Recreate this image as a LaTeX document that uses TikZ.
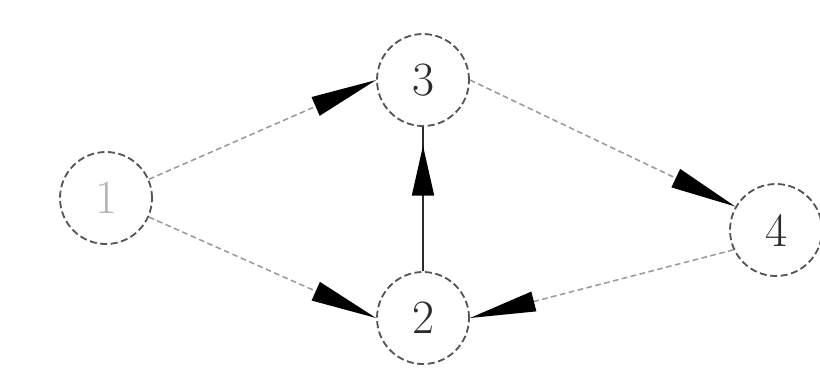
\documentclass[tikz,border=0pt]{standalone}
\usepackage{tikz}
\usetikzlibrary{arrows.meta,positioning,decorations.markings}
\definecolor{scanink}{HTML}{2A2A2A}
\definecolor{scangray}{HTML}{9A9A9A}
\tikzset{
  statenode/.style={circle, draw=scanink!80, line width=1.3pt, dash pattern=on 5pt off 2.5pt, minimum size=2.3cm, inner sep=0pt, font=\fontsize{34}{38}\selectfont, text=scanink},
  flowarrow/.style={scangray, line width=1.1pt, dash pattern=on 4pt off 2.5pt, -{Triangle[length=1.65cm, width=0.5cm, color=black]}},
  solidarrow/.style={scanink, line width=1.3pt, postaction={decorate}, decoration={markings, mark=at position 0.87 with {\arrow{Triangle[length=1.25cm, width=0.55cm, color=black]}}}}
}
\begin{document}
\begin{tikzpicture}[x=0.025cm, y=-0.025cm]
  \useasboundingbox (0,0) rectangle (820,378);
  \node[statenode, text=scanink!35] (n1) at (106,198) {1};
  \node[statenode] (n3) at (423,80) {3};
  \node[statenode] (n2) at (423,318) {2};
  \node[statenode] (n4) at (776,230) {4};
  \draw[flowarrow] (n1) -- (n3.west);
  \draw[flowarrow] (n1) -- (n2.west);
  \draw[solidarrow] (n2) -- (n3);
  \draw[flowarrow] (n3.east) -- (n4.150);
  \draw[flowarrow] (n4.205) -- (n2.east);
\end{tikzpicture}
\end{document}
